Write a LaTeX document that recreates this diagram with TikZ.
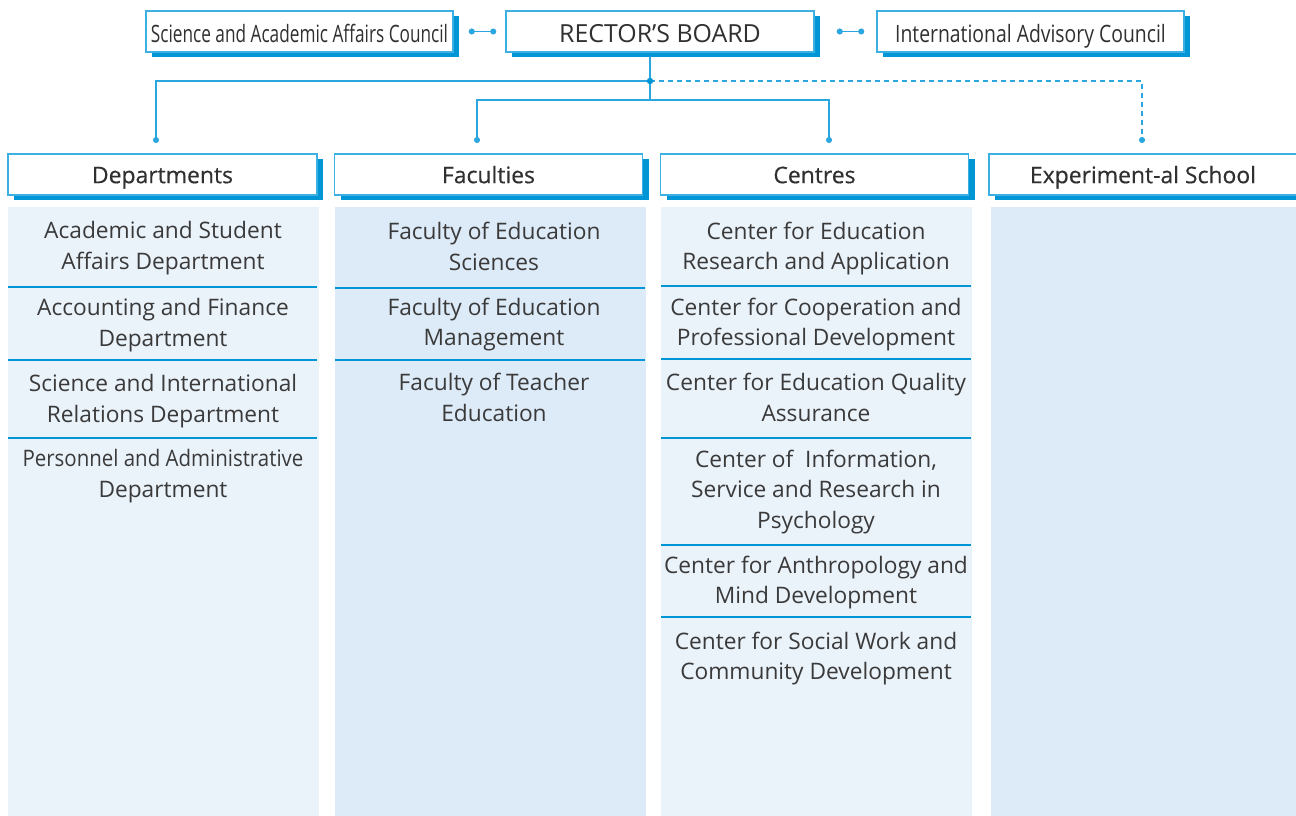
\documentclass[tikz,border=0pt]{standalone}
\usepackage{fontspec}
\setmainfont{Open Sans}
\usetikzlibrary{arrows.meta,positioning}
\definecolor{boxline}{HTML}{3DB0E3}
\definecolor{shadowblue}{HTML}{0096D6}
\definecolor{linkblue}{HTML}{2BA6DF}
\definecolor{colA}{HTML}{EAF2FA}
\definecolor{colB}{HTML}{DDEAF7}
\definecolor{textgray}{HTML}{3A3A3A}
\definecolor{headgray}{HTML}{303030}
\tikzset{
  unitbox/.style={draw=boxline, line width=1.5bp, fill=white, minimum height=41bp,
    inner sep=0pt, text=headgray,
    preaction={fill=shadowblue, transform canvas={shift={(6bp,-5bp)}}}},
  topbox/.style={unitbox, font=\fontsize{24}{26}\selectfont, text height=22.4bp, text depth=0.3bp},
  headbox/.style={unitbox, minimum width=308bp, font=\fontsize{23}{26}\selectfont\addfontfeatures{FakeBold=0.4},
    text height=17.7bp, text depth=0.3bp},
  item/.style={align=center, inner sep=0pt, text=textgray, font=\fontsize{22.8}{31}\selectfont},
  link/.style={draw=linkblue, line width=1.4bp},
  sep/.style={draw=shadowblue, line width=2bp},
  dot/.style={-{Circle[length=6bp]}},
  dots/.style={{Circle[length=6bp]}-{Circle[length=6bp]}}
}

\begin{document}
\begin{tikzpicture}[x=1bp,y=-1bp]
	\clip (0,0) rectangle (1296,816);
	% column backgrounds
	\fill[colA] (8,207) rectangle (319,816);
	\fill[colB] (335,207) rectangle (646,816);
	\fill[colA] (661,207) rectangle (972,816);
	\fill[colB] (991,207) rectangle (1300,816);
	% top row
	\node[topbox, minimum width=307bp] (sci) at (299.5,31.5) {\scalebox{0.72}[1]{Science and Academic Affairs Council}};
	\node[topbox, minimum width=308bp, font=\fontsize{25}{26}\selectfont, text height=23.1bp] (rector) at (660,31.5) {RECTOR’S BOARD};
	\node[topbox, minimum width=307bp] (intl) at (1030.5,31.5) {\scalebox{0.81}[1]{International Advisory Council}};
	\draw[link,dots] ([xshift=15bp]sci.east) -- ([xshift=-9bp]rector.west);
	\draw[link,dots] ([xshift=22bp]rector.east) -- ([xshift=-12bp]intl.west);
	% column heads
	\node[headbox, minimum width=309bp] (dept) at (162.5,174.5) {Departments};
	\node[headbox] (fac) at (488.5,174.5) {Faculties};
	\node[headbox] (cen) at (814.5,174.5) {Centres};
	\node[headbox] (exp) at (1143,174.5) {Experiment-al School};
	% links from the board
	\coordinate (hub) at (650,81);
	\coordinate (fork) at (650,100);
	\coordinate (dDept) at (156,143);
	\coordinate (dFac) at (477,143);
	\coordinate (dCen) at (829,143);
	\coordinate (dExp) at (1142,143);
	\draw[link] ([yshift=-4bp]fork |- rector.south) -- (fork);
	\draw[link,dot] (hub) -| (dDept);
	\draw[link,dot] (fork) -| (dFac);
	\draw[link,dot] (fork) -| (dCen);
	\draw[link,dot,dash pattern=on 5bp off 4bp] (hub) -| (dExp);
	\fill[shadowblue] (hub) circle (3.2bp);
	% departments
	\node[item] (dept1) at (163,248.5) {Academic and Student\\Affairs Department};
	\node[item] (dept2) at (163,325) {Accounting and Finance\\Department};
	\node[item] (dept3) at (163,401) {Science and International\\Relations Department};
	\node[item] (dept4) at (163,476) {\scalebox{0.9}[1]{Personnel and Administrative}\\Department};
	\draw[sep] (8,287) -- (317,287);
	\draw[sep] (8,360) -- (317,360);
	\draw[sep] (8,438) -- (317,438);
	% faculties
	\node[item] (fac1) at (494,246.8) {Faculty of Education\\Sciences};
	\node[item] (fac2) at (494,324.5) {Faculty of Education\\Management};
	\node[item] (fac3) at (494,397.8) {Faculty of Teacher\\Education};
	\draw[sep] (335,288) -- (645,288);
	\draw[sep] (335,360) -- (645,360);
	% centres
	\node[item] (cen1) at (816,248.5) {Center for Education\\Research and Application};
	\node[item] (cen2) at (816,324.5) {Center for Cooperation and\\Professional Development};
	\node[item] (cen3) at (816,397.8) {Center for Education Quality\\Assurance};
	\node[item] (cen4) at (816,492) {Center of~ Information,\\Service and Research in\\Psychology};
	\node[item] (cen5) at (816,582.5) {Center for Anthropology and\\Mind Development};
	\node[item] (cen6) at (816,658.5) {Center for Social Work and\\Community Development};
	\draw[sep] (661,286) -- (971,286);
	\draw[sep] (661,359) -- (971,359);
	\draw[sep] (661,438) -- (971,438);
	\draw[sep] (661,545) -- (971,545);
	\draw[sep] (661,617) -- (971,617);
\end{tikzpicture}
\end{document}
